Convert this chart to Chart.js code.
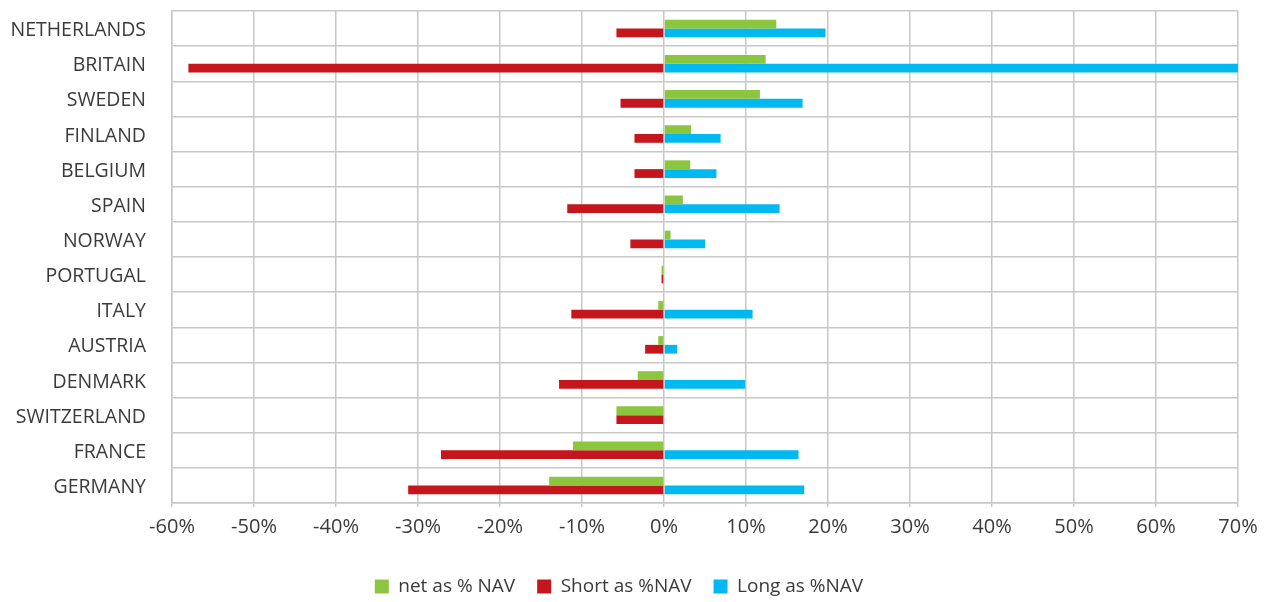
<!DOCTYPE html>
<html>
<head>
<meta charset="utf-8">
<script src="https://cdn.jsdelivr.net/npm/chart.js@4.4.1/dist/chart.umd.min.js"></script>
<style>
  html, body { margin: 0; padding: 0; background: #ffffff; }
  #wrap { width: 1274px; height: 602px; }
</style>
</head>
<body>
<div id="wrap"><canvas id="c" width="1274" height="602"></canvas></div>
<script>
const categories = ["NETHERLANDS","BRITAIN","SWEDEN","FINLAND","BELGIUM","SPAIN","NORWAY","PORTUGAL","ITALY","AUSTRIA","DENMARK","SWITZERLAND","FRANCE","GERMANY"];
const netNAV   = [13.7, 12.4, 11.7, 3.3, 3.2, 2.3, 0.8, -0.3, -0.7, -0.7, -3.2, -5.8, -11.1, -14.0];
const shortNAV = [-5.8, -58.0, -5.3, -3.6, -3.6, -11.8, -4.1, -0.3, -11.3, -2.3, -12.8, -5.8, -27.2, -31.2];
const longNAV  = [19.7, 70.4, 16.9, 6.9, 6.4, 14.1, 5.0, 0, 10.8, 1.6, 9.9, 0, 16.4, 17.1];
const xTicks = [-60,-50,-40,-30,-20,-10,0,10,20,30,40,50,60,70];
const seriesNames = ["net as % NAV", "Short as %NAV", "Long as %NAV"];

const FONT = "'Open Sans', 'Noto Sans', sans-serif";
const TEXT = "#3a3a3a";
const GRID = "#c8c8c8";

// Legend box height override so the legend row sits where the reference has it
const legendFitPatch = {
  id: 'legendFitPatch',
  beforeLayout(chart) {
    const lg = chart.legend;
    if (lg && !lg._patched) {
      const orig = lg.fit;
      lg.fit = function () { orig.call(this); this.height = this.height - 4; };
      lg._patched = true;
    }
  }
};

new Chart(document.getElementById('c'), {
  type: 'bar',
  data: {
    labels: categories,
    datasets: [
      { label: seriesNames[0], data: netNAV,   backgroundColor: '#8cc63f', stack: 'net', categoryPercentage: 0.5, barPercentage: 1.0 },
      { label: seriesNames[1], data: shortNAV, backgroundColor: '#c4161c', stack: 'sl',  categoryPercentage: 0.5, barPercentage: 1.0 },
      { label: seriesNames[2], data: longNAV,  backgroundColor: '#00b9f1', stack: 'sl',  categoryPercentage: 0.5, barPercentage: 1.0 }
    ]
  },
  plugins: [legendFitPatch],
  options: {
    indexAxis: 'y',
    responsive: false,
    animation: false,
    layout: { padding: { top: 11, right: 36, left: 0, bottom: 0 } },
    scales: {
      x: {
        stacked: true,
        min: xTicks[0],
        max: xTicks[xTicks.length - 1],
        afterBuildTicks: (s) => { s.ticks = xTicks.map(v => ({ value: v })); },
        afterFit: (s) => { s.height = 52; s.paddingLeft = 0; s.paddingRight = 0; },
        grid: { color: GRID, lineWidth: 1.5, drawTicks: true, tickLength: 4, tickColor: GRID },
        border: { display: true, color: GRID, width: 1.5 },
        ticks: {
          callback: (v) => v + '%',
          font: { family: FONT, size: 20 },
          color: TEXT,
          padding: 8,
          maxRotation: 0,
          autoSkip: false
        }
      },
      y: {
        stacked: true,
        afterFit: (s) => { s.width = 172; s.paddingTop = 0; s.paddingBottom = 0; },
        grid: { color: GRID, lineWidth: 1.5, drawTicks: false, offset: true },
        border: { display: true, color: GRID, width: 1.5 },
        ticks: {
          font: { family: FONT, size: 19.5 },
          color: TEXT,
          padding: 26,
          labelOffset: 2
        }
      }
    },
    plugins: {
      legend: {
        position: 'bottom',
        labels: {
          font: { family: FONT, size: 19 },
          color: TEXT,
          boxWidth: 14,
          boxHeight: 14,
          padding: 22
        }
      },
      tooltip: { enabled: false }
    }
  }
});
</script>
</body>
</html>
